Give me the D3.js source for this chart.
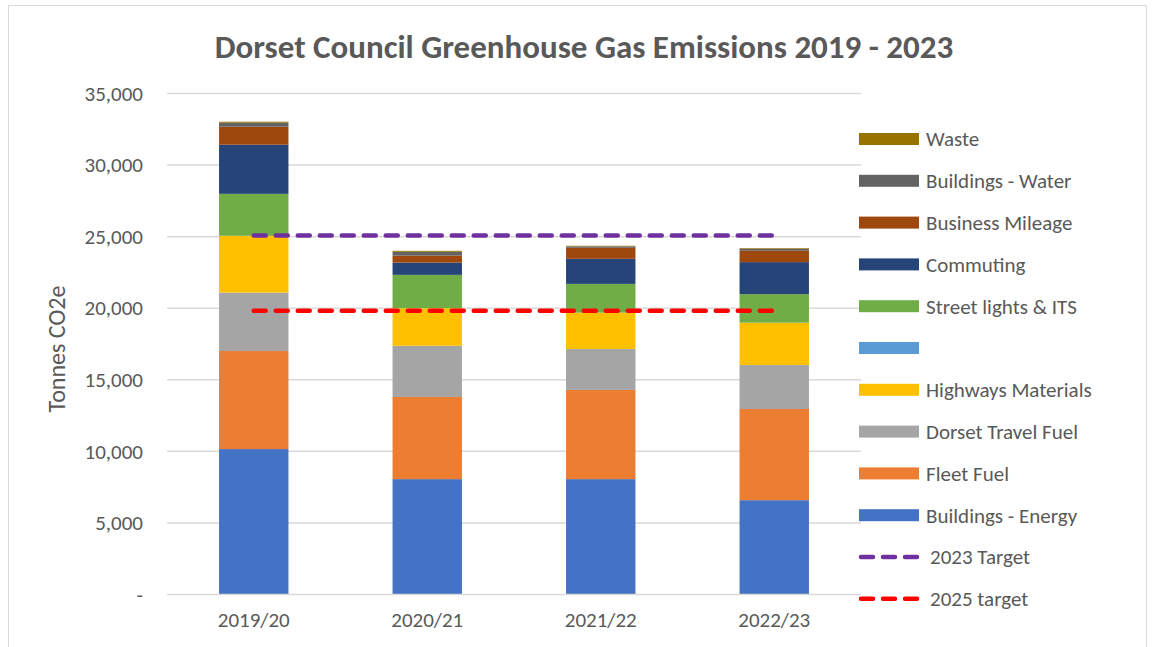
<!DOCTYPE html>
<html>
<head>
<meta charset="utf-8">
<script src="https://cdn.jsdelivr.net/npm/d3@7"></script>
<style>
  body { margin: 0; background: #fff; }
  svg { display: block; }
  text { font-family: Carlito, Calibri, "Liberation Sans Narrow", "Open Sans", sans-serif; }
</style>
</head>
<body>
<svg id="chart" width="1162" height="647"></svg>
<script>
const years = ["2019/20", "2020/21", "2021/22", "2022/23"];

// stacked series, bottom to top
const buildingsEnergy = [10160, 8060, 8060, 6590];
const fleetFuel       = [6850, 5740, 6230, 6370];
const dorsetTravel    = [4080, 3580, 2860, 3070];
const highwaysMat     = [3970, 2620, 2540, 2960];
const blankSeries     = [0, 0, 0, 0];
const streetLights    = [2930, 2330, 2010, 1990];
const commuting       = [3430, 860, 1750, 2240];
const businessMileage = [1260, 490, 770, 790];
const buildingsWater  = [280, 260, 100, 140];
const waste           = [70, 70, 40, 50];

const target2023 = [25080, 25080, 25080, 25080];
const target2025 = [19830, 19830, 19830, 19830];

const yTicks = [0, 5000, 10000, 15000, 20000, 25000, 30000, 35000];

const seriesNames = ["Buildings - Energy", "Fleet Fuel", "Dorset Travel Fuel", "Highways Materials", "",
                     "Street lights & ITS", "Commuting", "Business Mileage", "Buildings - Water", "Waste"];
const seriesColors = ["#4472C4", "#ED7D31", "#A5A5A5", "#FFC000", "#5B9BD5",
                      "#70AD47", "#264478", "#9E480E", "#636363", "#997300"];
const seriesValues = [buildingsEnergy, fleetFuel, dorsetTravel, highwaysMat, blankSeries,
                      streetLights, commuting, businessMileage, buildingsWater, waste];

const svg = d3.select("#chart");
const margin = {left: 167, right: 301, top: 94, bottom: 52};
const W = 1162, H = 647;

// chart frame
svg.append("rect")
   .attr("x", 8.5).attr("y", 5.5)
   .attr("width", 1138).attr("height", 660)
   .attr("fill", "#fff")
   .attr("stroke", "#d9d9d9");

const x = d3.scaleBand()
            .domain(years)
            .range([margin.left, W - margin.right])
            .paddingInner(0.6)
            .paddingOuter(0.3);

const y = d3.scaleLinear()
            .domain([0, 35000])
            .range([594.5, 93.5]);

// gridlines
svg.append("g")
   .selectAll("line")
   .data(yTicks.slice(1))
   .enter().append("line")
   .attr("x1", margin.left).attr("x2", W - margin.right)
   .attr("y1", d => y(d)).attr("y2", d => y(d))
   .attr("stroke", "#d9d9d9")
   .attr("stroke-width", 1.5);

const yAxis = d3.axisLeft(y)
                .tickValues(yTicks)
                .tickSize(0)
                .tickPadding(24)
                .tickFormat(d => d === 0 ? "-" : d3.format(",")(d));

const gy = svg.append("g")
              .attr("transform", "translate(" + margin.left + ",0)")
              .call(yAxis);
gy.select(".domain").remove();
gy.selectAll("text")
  .attr("fill", "#595959")
  .style("font-size", "21px");

// stack
const rows = years.map((yr, i) => {
  let r = {year: yr};
  seriesNames.forEach((n, k) => { r["s" + k] = seriesValues[k][i]; });
  return r;
});
const keys = seriesNames.map((n, k) => "s" + k);
const stacked = d3.stack().keys(keys)(rows);

svg.append("g")
   .selectAll("g")
   .data(stacked)
   .enter().append("g")
   .attr("fill", (d, k) => seriesColors[k])
   .selectAll("rect")
   .data(d => d)
   .enter().append("rect")
   .attr("x", d => x(d.data.year))
   .attr("width", x.bandwidth())
   .attr("y", d => y(d[1]))
   .attr("height", d => y(d[0]) - y(d[1]));

// x axis line
svg.append("line")
   .attr("x1", margin.left).attr("x2", W - margin.right)
   .attr("y1", y(0)).attr("y2", y(0))
   .attr("stroke", "#d9d9d9")
   .attr("stroke-width", 1.5);

const xAxis = d3.axisBottom(x).tickSize(0).tickPadding(18);
const gx = svg.append("g")
              .attr("transform", "translate(0," + y(0) + ")")
              .call(xAxis);
gx.select(".domain").remove();
gx.selectAll("text")
  .attr("fill", "#595959")
  .style("font-size", "21px");

// target lines
const line = d3.line()
               .x((d, i) => x(years[i]) + x.bandwidth() / 2)
               .y(d => y(d));

const targets = [
  {name: "2023 Target", values: target2023, color: "#7030A0"},
  {name: "2025 target", values: target2025, color: "#FF0000"}
];

targets.forEach(t => {
  svg.append("path")
     .datum(t.values)
     .attr("d", line)
     .attr("fill", "none")
     .attr("stroke", t.color)
     .attr("stroke-width", 4.5)
     .attr("stroke-linecap", "round")
     .attr("stroke-dasharray", "12,10");
});

// title
svg.append("text")
   .attr("x", 584).attr("y", 58)
   .attr("text-anchor", "middle")
   .attr("fill", "#595959")
   .style("font-size", "33px")
   .style("font-weight", "bold")
   .text("Dorset Council Greenhouse Gas Emissions 2019 - 2023");

// y axis title
svg.append("text")
   .attr("transform", "translate(65,349) rotate(-90)")
   .attr("text-anchor", "middle")
   .attr("fill", "#595959")
   .style("font-size", "24px")
   .text("Tonnes CO2e");

// legend
const legendTop = 139, legendStep = 41.8;
const legendItems = seriesNames.map((n, k) => ({name: n, color: seriesColors[k], type: "bar"})).reverse()
  .concat(targets.map(t => ({name: t.name, color: t.color, type: "line"})));

const legend = svg.append("g");
legendItems.forEach((d, i) => {
  let cy = legendTop + i * legendStep;
  if (d.type === "bar") {
    legend.append("rect")
          .attr("x", 859).attr("y", cy - 6)
          .attr("width", 60).attr("height", 12)
          .attr("fill", d.color);
    legend.append("text")
          .attr("x", 926).attr("y", cy)
          .attr("dy", "0.35em")
          .attr("fill", "#595959")
          .style("font-size", "21px")
          .text(d.name);
  } else {
    legend.append("line")
          .attr("x1", 861).attr("x2", 917)
          .attr("y1", cy).attr("y2", cy)
          .attr("stroke", d.color)
          .attr("stroke-width", 4.5)
          .attr("stroke-linecap", "round")
          .attr("stroke-dasharray", "12,10");
    legend.append("text")
          .attr("x", 930).attr("y", cy)
          .attr("dy", "0.35em")
          .attr("fill", "#595959")
          .style("font-size", "21px")
          .text(d.name);
  }
});
</script>
</body>
</html>
